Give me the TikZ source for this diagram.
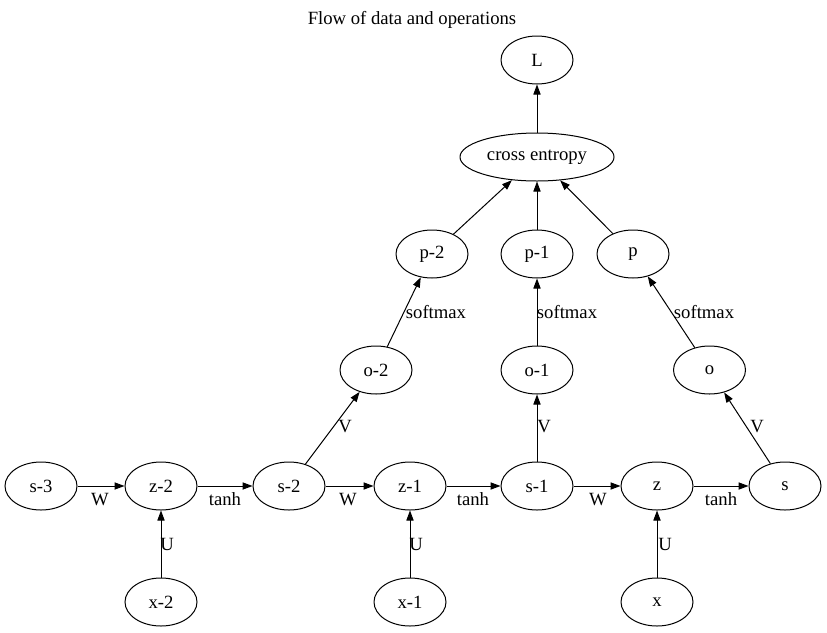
\documentclass[tikz,border=0pt]{standalone}
\usepackage{fontspec}
\setmainfont{Liberation Serif}
\usetikzlibrary{shapes.geometric,arrows.meta}

\begin{document}
\begin{tikzpicture}[x=0.75pt, y=-0.75pt, font=\fontsize{14}{16}\selectfont,
	var/.style={draw, ellipse, line width=0.75pt, minimum width=54pt, minimum height=36pt, inner sep=0pt},
	flow/.style={-{Triangle[length=7.5pt, width=5.4pt]}, line width=0.75pt},
	lbl/.style={inner sep=0pt}]
	\useasboundingbox (0,0) rectangle (827,632);
	% Titel
	\node (title) at (412,20) {Flow of data and operations};
	
	% Zustaende und Zwischenwerte (untere Reihe)
	\foreach \n/\t/\px in {s3/s-3/41, z2/z-2/161, s2/s-2/289, z1/z-1/410, s1/s-1/537, z0/z/657, s0/s/785} {
		\node[var] (\n) at (\px,486) {\t};
	}
	% Eingaben
	\foreach \n/\t/\px in {x2/x-2/161, x1/x-1/410, x0/x/657} {
		\node[var] (\n) at (\px,602) {\t};
	}
	% Ausgaben und Wahrscheinlichkeiten
	\foreach \n/\t/\px in {o2/o-2/376, o1/o-1/537, o0/o/709.5} {
		\node[var] (\n) at (\px,370) {\t};
	}
	\foreach \n/\t/\px in {p2/p-2/432, p1/p-1/537, p0/p/633} {
		\node[var] (\n) at (\px,254) {\t};
	}
	% Verlust
	\node[var, minimum width=115.5pt] (ce) at (537,157) {cross entropy};
	\node[var] (L) at (537,60) {L};
	
	% Kanten mit Beschriftung
	\foreach \a/\b/\l/\lx/\ly in {s3/z2/W/100/500, s2/z1/W/348/500, s1/z0/W/598/500,
		z2/s2/tanh/225/499, z1/s1/tanh/473/499, z0/s0/tanh/721/499,
		x2/z2/U/167/544, x1/z1/U/416/544, x0/z0/U/665/544,
		s2/o2/V/345/427, s1/o1/V/544/427, s0/o0/V/757/427,
		o2/p2/softmax/436/312, o1/p1/softmax/567/312, o0/p0/softmax/704/312} {
		\draw[flow] (\a) -- (\b);
		\node[lbl] (lab-\a-\b) at (\lx,\ly) {\l};
	}
	% Kanten zum Verlust
	\foreach \a in {p2, p1, p0} {
		\draw[flow] (\a) -- (ce);
	}
	\draw[flow] (ce) -- (L);
\end{tikzpicture}
\end{document}
